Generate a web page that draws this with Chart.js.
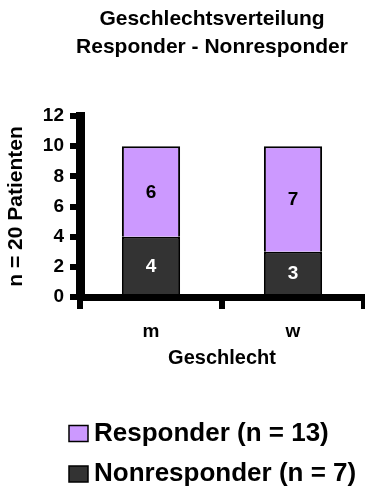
<!DOCTYPE html>
<html>
<head>
<meta charset="utf-8">
<script src="https://cdn.jsdelivr.net/npm/chart.js@4"></script>
<style>
  html, body { margin: 0; padding: 0; background: #fff; }
  #wrap { width: 365px; height: 496px; position: relative; }
</style>
</head>
<body>
<div id="wrap"><canvas id="chart"></canvas></div>
<script>
// Patients per sex, stacked: nonresponder at the bottom, responder on top
const categories = ["m", "w"];
const nonresponder = [4, 3];
const responder = [6, 7];
const yMax = 12;
const yStep = 2;

const FONT = '"Liberation Sans", Arial, sans-serif';
const sum = (arr) => arr.reduce((a, b) => a + b, 0);
const total = sum(nonresponder) + sum(responder);

Chart.defaults.font.family = FONT;
Chart.defaults.font.weight = "bold";
Chart.defaults.color = "#000";


// Two-line heading
const headingPlugin = {
  id: "heading",
  afterDraw(chart) {
    const ctx = chart.ctx;
    ctx.save();
    ctx.font = `bold 21px ${FONT}`;
    ctx.fillStyle = "#000";
    ctx.textAlign = "center";
    ctx.textBaseline = "alphabetic";
    ctx.fillText("Geschlechtsverteilung", 212, 25);
    ctx.fillText("Responder - Nonresponder", 212, 53);
    ctx.restore();
  },
};


// Numbers inside each bar segment
const segmentLabels = {
  id: "segmentLabels",
  afterDatasetsDraw(chart) {
    const ctx = chart.ctx;
    ctx.save();
    ctx.font = `bold 19px ${FONT}`;
    ctx.textAlign = "center";
    ctx.textBaseline = "middle";
    chart.data.datasets.forEach((ds, i) => {
      chart.getDatasetMeta(i).data.forEach((bar, j) => {
        const { x, y, base } = bar.getProps(["x", "y", "base"], true);
        ctx.fillStyle = ds.labelColor;
        ctx.fillText(ds.data[j], x, (y + base) / 2 + 1);
      });
    });
    ctx.restore();
  },
};


// Legend below the axis, one row per series, top series first
const legendRows = {
  id: "legendRows",
  afterDraw(chart) {
    const ctx = chart.ctx;
    const items = chart.data.datasets.slice().reverse();
    ctx.save();
    ctx.font = `bold 26px ${FONT}`;
    ctx.textAlign = "left";
    ctx.textBaseline = "middle";
    items.forEach((ds, k) => {
      const cy = 433.5 + k * 40.5;
      ctx.fillStyle = ds.backgroundColor;
      ctx.fillRect(69, cy - 8, 19, 16);
      ctx.lineWidth = 1.5;
      ctx.strokeStyle = "#000";
      ctx.strokeRect(69, cy - 8, 19, 16);
      ctx.fillStyle = "#000";
      ctx.fillText(`${ds.label} (n = ${sum(ds.data)})`, 94, cy);
    });
    ctx.restore();
  },
};


const ctx = document.getElementById("chart").getContext("2d");

new Chart(ctx, {
  type: "bar",
  data: {
    labels: categories,
    datasets: [
      {
        label: "Nonresponder",
        data: nonresponder,
        backgroundColor: "#333333",
        borderColor: "#000",
        borderWidth: 2,
        labelColor: "#fff",
      },
      {
        label: "Responder",
        data: responder,
        backgroundColor: "#CC99FF",
        borderColor: "#000",
        borderWidth: 2,
        labelColor: "#000",
      },
    ],
  },
  options: {
    responsive: true,
    maintainAspectRatio: false,
    animation: false,
    layout: { padding: { top: 116, bottom: 119, left: 0, right: 1 } },
    datasets: {
      bar: { barPercentage: 0.41, categoryPercentage: 1 },
    },
    plugins: {
      legend: { display: false },
      title: { display: false },
      tooltip: { enabled: false },
    },
    scales: {
      x: {
        stacked: true,
        afterFit: (scale) => { scale.height = 80; },
        grid: {
          offset: true,
          drawOnChartArea: false,
          drawTicks: true,
          tickLength: 12,
          lineWidth: 6,
          color: "#000",
        },
        border: { display: true, width: 7, color: "#000" },
        ticks: { padding: 11, font: { size: 19, weight: "bold" }, color: "#000" },
        title: {
          display: true,
          text: "Geschlecht",
          font: { size: 20, weight: "bold" },
          color: "#000",
          padding: { top: 0, bottom: 7 },
        },
      },
      y: {
        stacked: true,
        min: 0,
        max: yMax,
        afterFit: (scale) => { scale.width = 80; },
        grid: {
          drawOnChartArea: false,
          drawTicks: true,
          tickLength: 10,
          lineWidth: 6,
          color: "#000",
        },
        border: { display: true, width: 9, color: "#000" },
        ticks: {
          stepSize: yStep,
          padding: 6,
          font: { size: 19, weight: "bold" },
          color: "#000",
        },
        title: {
          display: true,
          text: `n = ${total} Patienten`,
          font: { size: 21, weight: "bold" },
          color: "#000",
          padding: { top: 4, bottom: 0 },
        },
      },
    },
  },
  plugins: [headingPlugin, segmentLabels, legendRows],
});
</script>
</body>
</html>
